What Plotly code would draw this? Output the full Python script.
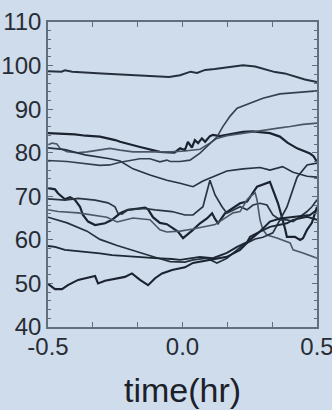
import plotly.graph_objects as go

# ---- series (time in hours, value) ----
A_x = [-0.5, -0.45, -0.437, -0.41, -0.3, -0.2, -0.1, -0.05, -0.009, 0.01, 0.03, 0.054, 0.084, 0.12, 0.158, 0.195, 0.225, 0.27, 0.307, 0.344, 0.38, 0.418, 0.455, 0.5]
A_y = [98.7, 98.6, 98.9, 98.6, 98.2, 97.9, 97.6, 97.4, 97.8, 98.2, 98.6, 98.3, 99.0, 99.2, 99.5, 99.9, 100.1, 99.8, 99.2, 98.5, 98.2, 97.4, 96.8, 96.2]

B_x = [-0.5, -0.44, -0.4, -0.36, -0.307, -0.25, -0.232, -0.158, -0.084, -0.05, -0.03, -0.009, 0.009, 0.02, 0.035, 0.046, 0.058, 0.072, 0.084, 0.102, 0.113, 0.139, 0.165, 0.2, 0.225, 0.26, 0.288, 0.325, 0.362, 0.39, 0.426, 0.448, 0.474, 0.487, 0.5]
B_y = [84.5, 84.4, 84.2, 83.9, 83.7, 82.9, 82.5, 81.3, 80.2, 80.1, 80.0, 81.0, 80.6, 82.5, 81.2, 82.9, 82.2, 83.3, 82.5, 83.8, 84.1, 83.8, 84.1, 84.5, 84.8, 84.9, 84.8, 84.5, 83.7, 82.3, 81.0, 80.4, 79.8, 79.2, 77.9]

C_x = [-0.5, -0.485, -0.467, -0.455, -0.429, -0.392, -0.355, -0.307, -0.27, -0.232, -0.184, -0.121, -0.046, 0.009, 0.039, 0.065, 0.102, 0.125, 0.165, 0.225, 0.27, 0.325, 0.362, 0.4, 0.448, 0.5]
C_y = [81.8, 82.2, 82.0, 81.0, 80.2, 80.0, 80.2, 80.6, 81.0, 80.6, 80.2, 80.2, 80.2, 80.4, 80.6, 80.8, 82.2, 83.2, 83.9, 84.5, 84.8, 85.5, 85.7, 86.0, 86.5, 86.8]

D_x = [-0.5, -0.437, -0.362, -0.307, -0.27, -0.232, -0.184, -0.121, -0.058, -0.009, 0.039, 0.076, 0.128, 0.165, 0.225, 0.288, 0.325, 0.372, 0.411, 0.463, 0.5]
D_y = [81.1, 80.7, 79.5, 79.0, 78.6, 78.1, 76.3, 74.9, 73.7, 73.0, 72.2, 73.5, 74.9, 75.8, 76.3, 76.6, 76.0, 76.8, 75.5, 74.6, 74.4]

E_x = [-0.5, -0.429, -0.307, -0.27, -0.232, -0.184, -0.158, -0.121, -0.084, -0.058, -0.046, -0.009, 0.028, 0.065, 0.102, 0.128, 0.15, 0.177, 0.203, 0.24, 0.299, 0.362, 0.426, 0.5]
E_y = [78.2, 78.0, 77.1, 77.2, 77.8, 78.4, 78.6, 78.6, 77.9, 78.3, 78.0, 78.0, 78.3, 79.9, 82.2, 83.6, 86.0, 88.4, 90.2, 91.1, 92.5, 93.5, 93.9, 94.2]

H_x = [-0.5, -0.474, -0.463, -0.437, -0.418, -0.4, -0.381, -0.37, -0.351, -0.325, -0.288, -0.262, -0.232, -0.203, -0.165, -0.139, -0.128, -0.11, -0.084, -0.058, -0.017, 0.002, 0.039, 0.065, 0.091, 0.11, 0.121, 0.132, 0.158, 0.184, 0.214, 0.24, 0.277, 0.325, 0.355, 0.381, 0.388, 0.418, 0.437, 0.448, 0.463, 0.481, 0.5]
H_y = [71.9, 71.6, 70.7, 69.3, 69.8, 69.2, 67.6, 65.7, 64.2, 63.4, 63.8, 64.6, 66.1, 66.9, 67.2, 67.4, 67.0, 65.2, 63.9, 63.6, 61.9, 60.4, 62.3, 63.8, 64.9, 66.1, 64.8, 63.8, 66.1, 67.2, 68.4, 68.8, 72.2, 73.3, 68.4, 62.6, 60.7, 60.7, 60.0, 60.4, 62.3, 63.9, 67.6]

I_x = [-0.5, -0.437, -0.388, -0.325, -0.277, -0.251, -0.24, -0.225, -0.203, -0.139, -0.102, -0.039, 0.009, 0.039, 0.076, 0.091, 0.102, 0.121, 0.147, 0.165, 0.177, 0.214, 0.24, 0.262, 0.288, 0.314, 0.336, 0.362, 0.388, 0.411, 0.437, 0.463, 0.481, 0.5]
I_y = [69.4, 69.1, 69.5, 69.1, 68.5, 67.6, 66.1, 65.9, 66.9, 67.2, 66.9, 66.5, 65.7, 65.7, 67.6, 71.4, 73.7, 70.3, 67.6, 66.1, 66.5, 67.6, 66.9, 68.0, 68.4, 68.0, 65.7, 64.6, 64.6, 64.2, 65.3, 66.5, 67.6, 69.2]

J_x = [-0.5, -0.463, -0.388, -0.281, -0.243, -0.184, -0.121, -0.084, -0.058, -0.009, 0.039, 0.076, 0.121, 0.158, 0.188, 0.214, 0.24, 0.251, 0.27, 0.277, 0.288, 0.299, 0.314, 0.351, 0.4, 0.411, 0.448, 0.5]
J_y = [66.9, 66.5, 66.2, 65.2, 64.1, 65.0, 64.6, 62.3, 61.8, 62.0, 62.5, 63.0, 63.5, 65.0, 66.2, 66.5, 69.2, 69.9, 70.8, 69.2, 64.6, 62.3, 61.1, 60.4, 59.3, 57.7, 57.0, 55.8]

K_x = [-0.5, -0.429, -0.355, -0.307, -0.243, -0.177, -0.102, -0.046, 0.009, 0.039, 0.091, 0.128, 0.165, 0.203, 0.225, 0.27, 0.299, 0.336, 0.388, 0.426, 0.463, 0.5]
K_y = [65.2, 63.9, 62.0, 60.1, 58.7, 57.4, 56.0, 55.0, 54.9, 55.4, 55.8, 54.7, 55.8, 57.7, 58.8, 60.2, 60.6, 61.6, 67.5, 74.4, 77.2, 77.6]

L_x = [-0.5, -0.474, -0.437, -0.362, -0.307, -0.262, -0.188, -0.102, -0.039, -0.009, 0.065, 0.113, 0.165, 0.203, 0.24, 0.251, 0.288, 0.325, 0.388, 0.411, 0.463, 0.5]
L_y = [58.6, 58.4, 57.7, 57.3, 56.9, 56.5, 56.1, 55.8, 55.6, 55.4, 56.1, 55.8, 57.0, 58.4, 59.5, 60.7, 61.9, 63.0, 63.8, 64.6, 65.3, 64.6]

M_x = [-0.5, -0.485, -0.474, -0.448, -0.426, -0.388, -0.325, -0.314, -0.288, -0.214, -0.188, -0.158, -0.128, -0.102, -0.076, -0.039, 0.009, 0.039, 0.102, 0.165, 0.214, 0.251, 0.288, 0.325, 0.362, 0.426, 0.474, 0.5]
M_y = [49.9, 49.3, 48.7, 48.7, 49.6, 50.8, 51.7, 50.0, 50.6, 51.5, 52.3, 50.8, 49.6, 51.2, 52.3, 53.1, 53.7, 54.7, 55.4, 56.1, 57.7, 60.0, 61.9, 64.2, 64.9, 65.3, 65.7, 66.9]

# ---- axis ticks ----
x_tick_vals = [-0.5, 0.0, 0.5]
x_tick_text = ["-0.5", "0.0", "0.5"]
x_minor_vals = [-1 / 3, -1 / 6, 1 / 6, 1 / 3]
y_tick_vals = [40, 50, 60, 70, 80, 90, 100, 110]
y_tick_text = ["40", "50", "60", "70", "80", "90", "100", "110"]

BG = "rgb(207,220,236)"
AXIS = "rgb(96,110,126)"
FONT = "Liberation Sans, Arial, sans-serif"

series = [
    (A_x, A_y, "rgb(38,48,60)", 2.0),
    (B_x, B_y, "rgb(26,35,47)", 2.2),
    (C_x, C_y, "rgb(74,86,101)", 1.6),
    (D_x, D_y, "rgb(40,51,64)", 1.6),
    (E_x, E_y, "rgb(52,64,78)", 1.6),
    (H_x, H_y, "rgb(26,35,47)", 2.2),
    (I_x, I_y, "rgb(42,53,66)", 1.7),
    (J_x, J_y, "rgb(76,88,103)", 1.6),
    (K_x, K_y, "rgb(38,49,62)", 1.7),
    (L_x, L_y, "rgb(30,40,52)", 1.9),
    (M_x, M_y, "rgb(26,35,47)", 2.1),
]

fig = go.Figure()
for xs, ys, color, width in series:
    fig.add_trace(go.Scatter(x=xs, y=ys, mode="lines",
                             line=dict(color=color, width=width),
                             showlegend=False, hoverinfo="skip"))

fig.update_layout(
    width=332, height=410,
    margin=dict(l=48, r=15, t=22, b=83, autoexpand=False),
    paper_bgcolor=BG, plot_bgcolor=BG,
    font=dict(family=FONT, size=24, color="rgb(40,44,52)"),
    showlegend=False,
)

fig.update_xaxes(
    range=[-0.5, 0.5], tickmode="array", tickvals=x_tick_vals, ticktext=x_tick_text,
    ticks="inside", ticklen=5, tickwidth=1.3, tickcolor=AXIS,
    showline=True, linecolor=AXIS, linewidth=1.6, mirror="ticks",
    showgrid=False, zeroline=False, ticklabeloverflow="allow", automargin=False,
    ticklabelstandoff=-3,
    minor=dict(tickmode="array", tickvals=x_minor_vals, ticks="inside",
               ticklen=5, tickwidth=1.3, tickcolor=AXIS, showgrid=False),
    tickfont=dict(size=24),
)
fig.update_yaxes(
    range=[40, 110], tickmode="array", tickvals=y_tick_vals, ticktext=y_tick_text,
    ticks="inside", ticklen=5, tickwidth=1.3, tickcolor=AXIS,
    showline=True, linecolor=AXIS, linewidth=1.6, mirror="ticks",
    showgrid=False, zeroline=False, ticklabeloverflow="allow", automargin=False,
    minor=dict(dtick=2, tick0=40, ticks="inside", ticklen=3, tickwidth=1.1,
               tickcolor=AXIS, showgrid=False),
    tickfont=dict(size=24),
)

fig.add_annotation(text="time(hr)", x=0.5, xref="paper", y=-0.207, yref="paper",
                   yanchor="middle", xanchor="center", showarrow=False,
                   font=dict(family=FONT, size=34, color="rgb(28,32,40)"))

fig.write_html("out.html")
